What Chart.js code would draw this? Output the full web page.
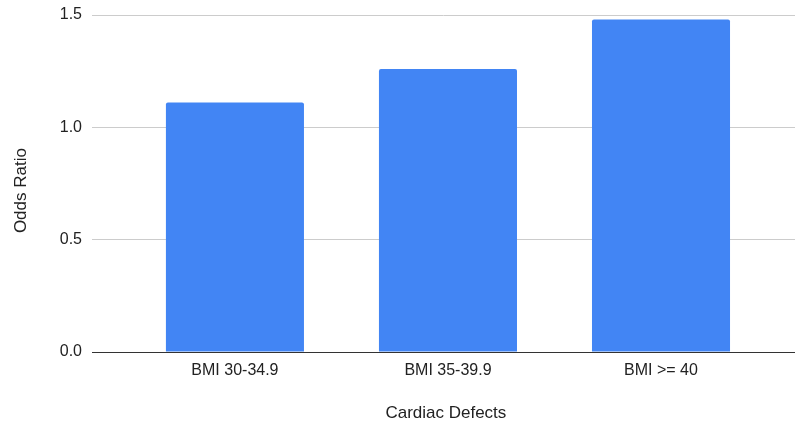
<!DOCTYPE html>
<html>
<head>
<meta charset="utf-8">
<script src="https://cdn.jsdelivr.net/npm/chart.js@4"></script>
<style>
  html, body { margin: 0; padding: 0; background: #fff; }
  #oddsChart { display: block; }
</style>
</head>
<body>
<canvas id="oddsChart" width="795" height="430"></canvas>
<script>
// Values
const categories = ['BMI 30-34.9', 'BMI 35-39.9', 'BMI >= 40'];
const oddsRatios = [1.11, 1.26, 1.48];
const yTicks = [0, 0.5, 1.0, 1.5];

const xTitle = 'Cardiac Defects';
const yTitle = 'Odds Ratio';

const textColor = '#222222';
const fontFamily = '"Liberation Sans", Arial, sans-serif';

const ctx = document.getElementById('oddsChart').getContext('2d');

new Chart(ctx, {
  type: 'bar',
  data: {
    datasets: [{
      label: yTitle,
      // bars sit at x = 1, 2, 3 on a linear axis so the plot can carry the side gaps
      data: categories.map((c, i) => ({ x: i + 1, y: oddsRatios[i] })),
      backgroundColor: '#4285F4',
      borderRadius: 2,
      borderSkipped: 'start',
      barPercentage: 0.648,
      categoryPercentage: 1
    }]
  },
  options: {
    responsive: false,
    animation: false,
    layout: { padding: { top: 15, right: 0, bottom: 0, left: 0 } },
    plugins: {
      legend: { display: false },
      tooltip: { enabled: false }
    },
    scales: {
      x: {
        type: 'linear',
        offset: false,
        bounds: 'data',
        min: 0.329,
        max: 3.629,
        afterBuildTicks: (scale) => {
          scale.ticks = categories.map((c, i) => ({ value: i + 1 }));
        },
        afterFit: (scale) => {
          scale.height = 78;
          scale.paddingLeft = 0;
          scale.paddingRight = 0;
        },
        grid: { display: false, drawTicks: false },
        border: { display: true, color: '#333333', width: 1 },
        ticks: {
          autoSkip: false,
          maxRotation: 0,
          padding: 9,
          color: textColor,
          font: { family: fontFamily, size: 16 },
          callback: (value) => categories[value - 1] || ''
        },
        title: {
          display: true,
          // leading space nudges the title a little right, as in the reference
          text: ' ' + xTitle,
          color: textColor,
          font: { family: fontFamily, size: 17 },
          padding: { top: 0, bottom: 6 }
        }
      },
      y: {
        min: 0,
        max: 1.5,
        afterBuildTicks: (scale) => {
          scale.ticks = yTicks.map(v => ({ value: v }));
        },
        afterFit: (scale) => {
          scale.width = 92;
          scale.paddingTop = 0;
          scale.paddingBottom = 0;
        },
        grid: {
          drawTicks: false,
          color: (c) => (c.tick && c.tick.value === 0) ? '#333333' : '#cccccc'
        },
        border: { display: false },
        ticks: {
          padding: 10,
          color: textColor,
          font: { family: fontFamily, size: 16 },
          callback: (value) => Number(value).toFixed(1)
        },
        title: {
          display: true,
          // trailing spaces push the rotated title a bit lower, like the reference
          text: yTitle + '   ',
          color: textColor,
          font: { family: fontFamily, size: 17 },
          padding: { top: 11, bottom: 0 }
        }
      }
    }
  }
});
</script>
</body>
</html>
